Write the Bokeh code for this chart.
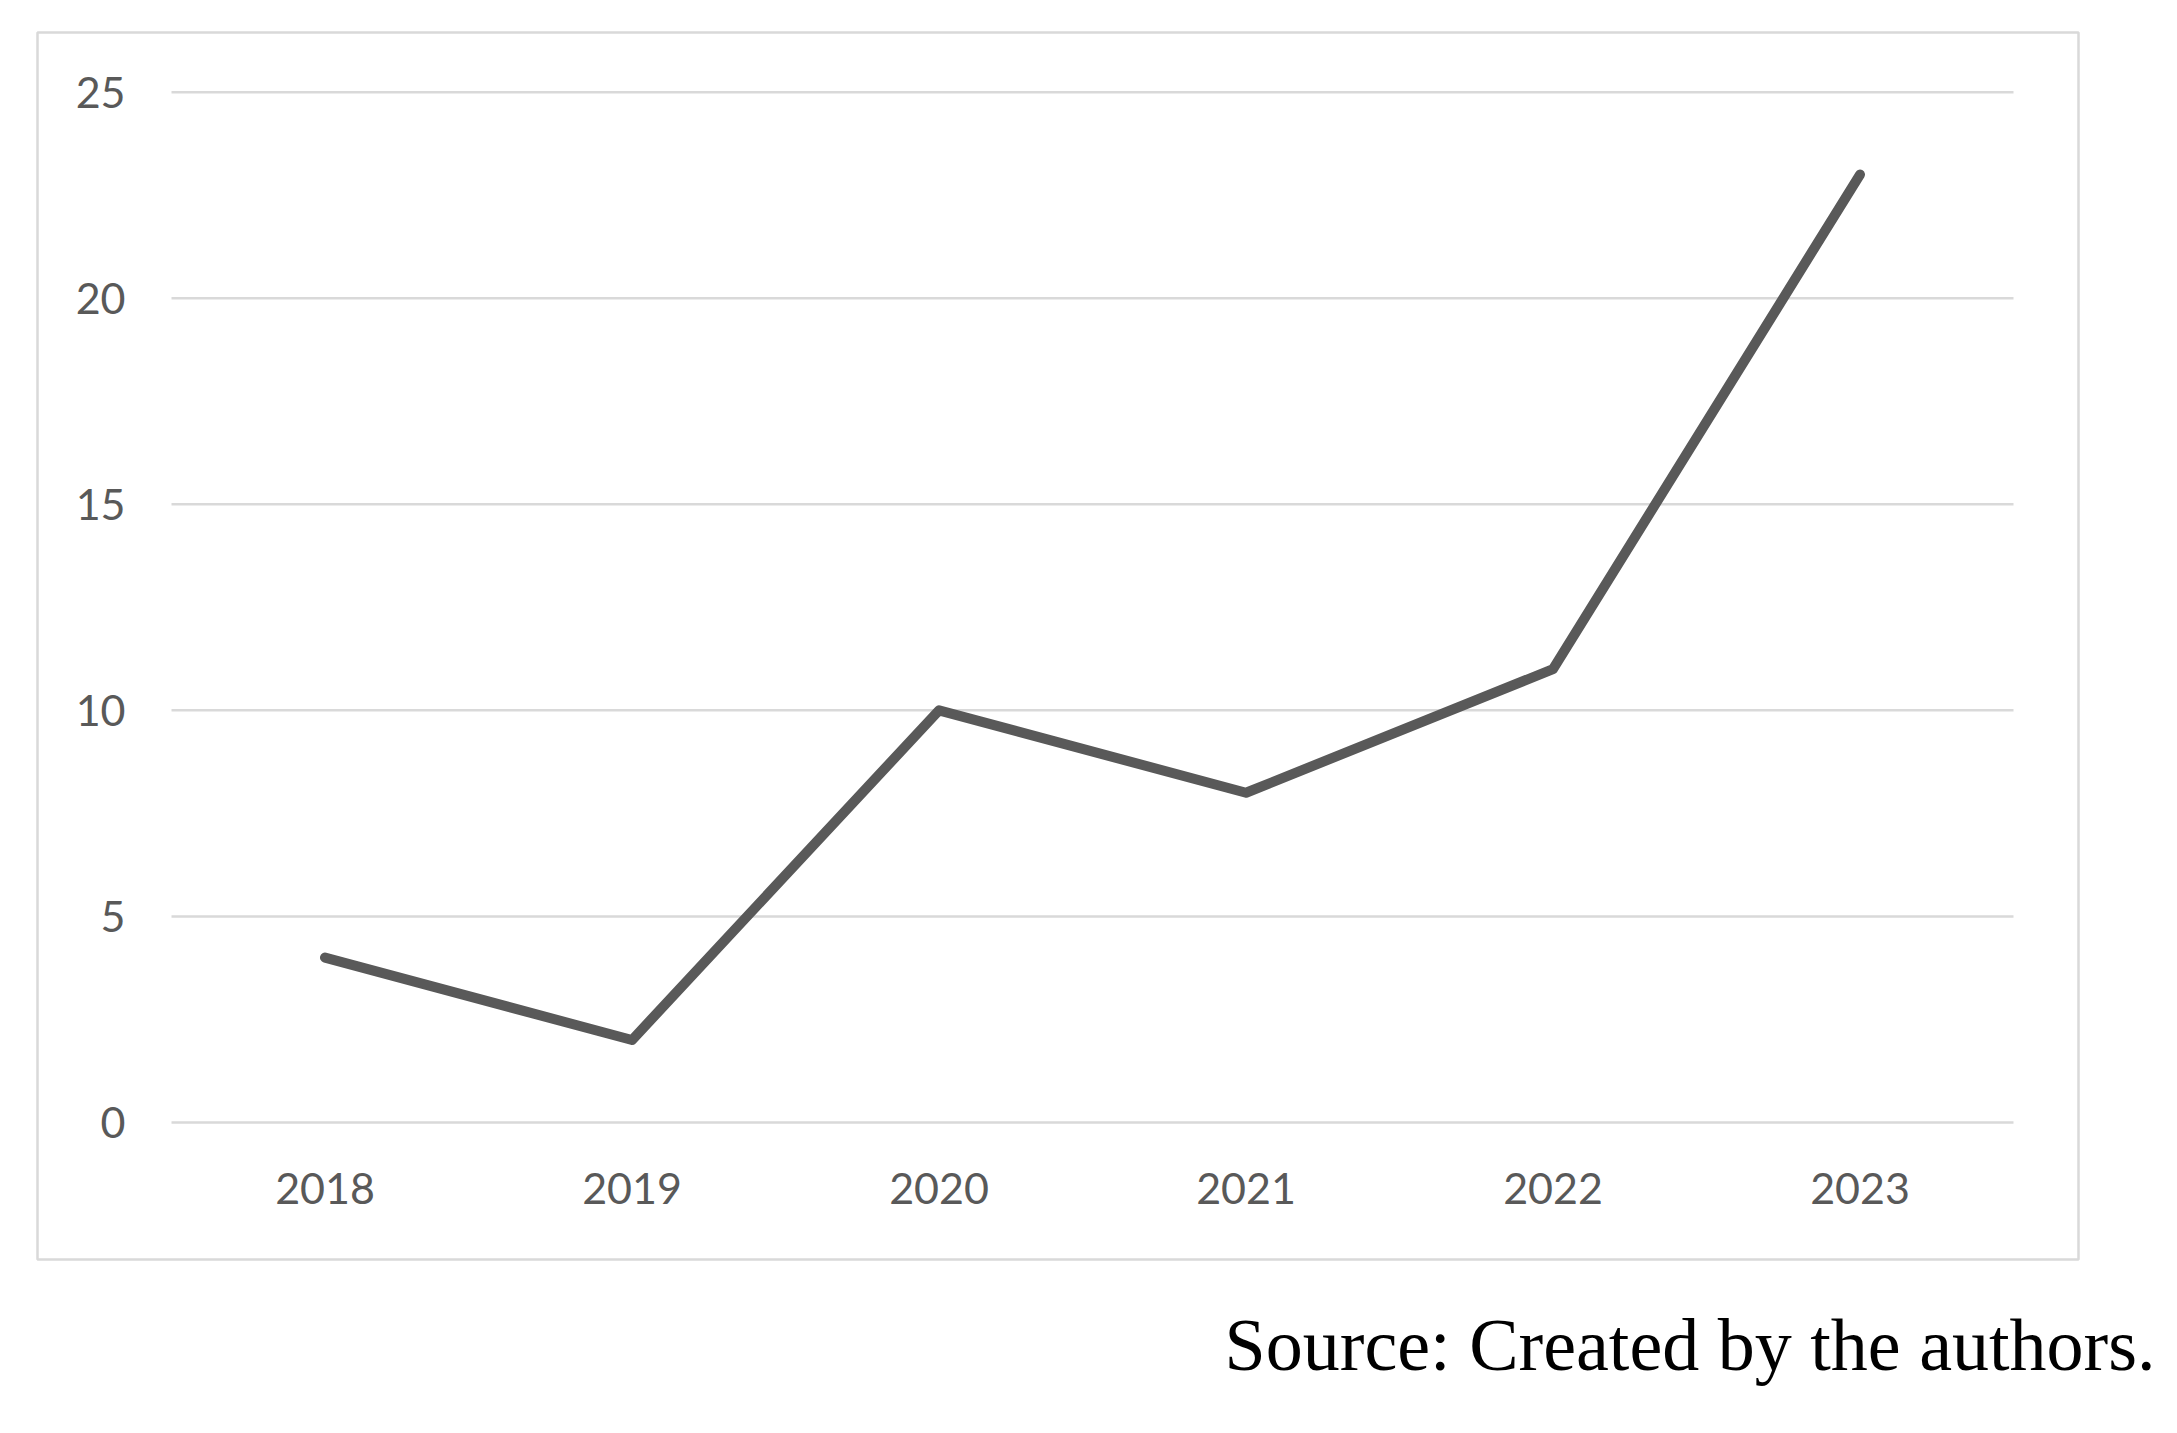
from bokeh.plotting import figure
from bokeh.models import Range1d, FixedTicker, Title
from bokeh.embed import file_html
from bokeh.resources import INLINE

years = ["2018", "2019", "2020", "2021", "2022", "2023"]
counts = [4, 2, 10, 8, 11, 23]
y_ticks = [0, 5, 10, 15, 20, 25]
source_note = "Source: Created by the authors."

idx = list(range(len(years)))

W, H = 2170, 1433
BL, BR, BT, BB = 37, 2078, 32, 1259  # chart box (frame) edges in canvas px

p = figure(width=W, height=H, output_backend="svg", toolbar_location=None,
           x_range=Range1d(-0.9365, 5.7117),
           y_range=Range1d(-3.325, 26.447))
p.min_border_left = BL
p.min_border_right = W - BR
p.min_border_top = BT
p.min_border_bottom = H - BB
p.outline_line_color = "#d9d9d9"
p.outline_line_width = 2.5
p.background_fill_color = "white"
p.border_fill_color = "white"
p.xgrid.grid_line_color = None
p.ygrid.grid_line_color = None

# horizontal gridlines spanning the category bands
p.segment(x0=[idx[0] - 0.5] * len(y_ticks), x1=[idx[-1] + 0.5] * len(y_ticks),
          y0=y_ticks, y1=y_ticks, line_color="#d9d9d9", line_width=2.5)

p.line(x=idx, y=counts, line_color="#595959", line_width=10,
       line_cap="round", line_join="round")

p.xaxis.ticker = FixedTicker(ticks=idx)
p.xaxis.major_label_overrides = {i: y for i, y in zip(idx, years)}
p.yaxis.ticker = FixedTicker(ticks=y_ticks)
p.xaxis.fixed_location = y_ticks[0]
p.yaxis.fixed_location = idx[0] - 0.5

for ax in (p.xaxis[0], p.yaxis[0]):
    ax.axis_line_color = None
    ax.major_tick_line_color = None
    ax.minor_tick_line_color = None
    ax.major_tick_out = 0
    ax.major_tick_in = 0
    ax.major_label_text_font = "Lato"
    ax.major_label_text_font_size = "43px"
    ax.major_label_text_color = "#595959"
p.yaxis.major_label_standoff = 46
p.xaxis.major_label_standoff = 51

note = Title(text=source_note, align="right", offset=-77, standoff=88,
             vertical_align="top",
             text_font="Liberation Serif", text_font_size="74px",
             text_font_style="normal", text_color="black")
p.add_layout(note, "below")

open("out.html", "w").write(file_html(p, INLINE))
